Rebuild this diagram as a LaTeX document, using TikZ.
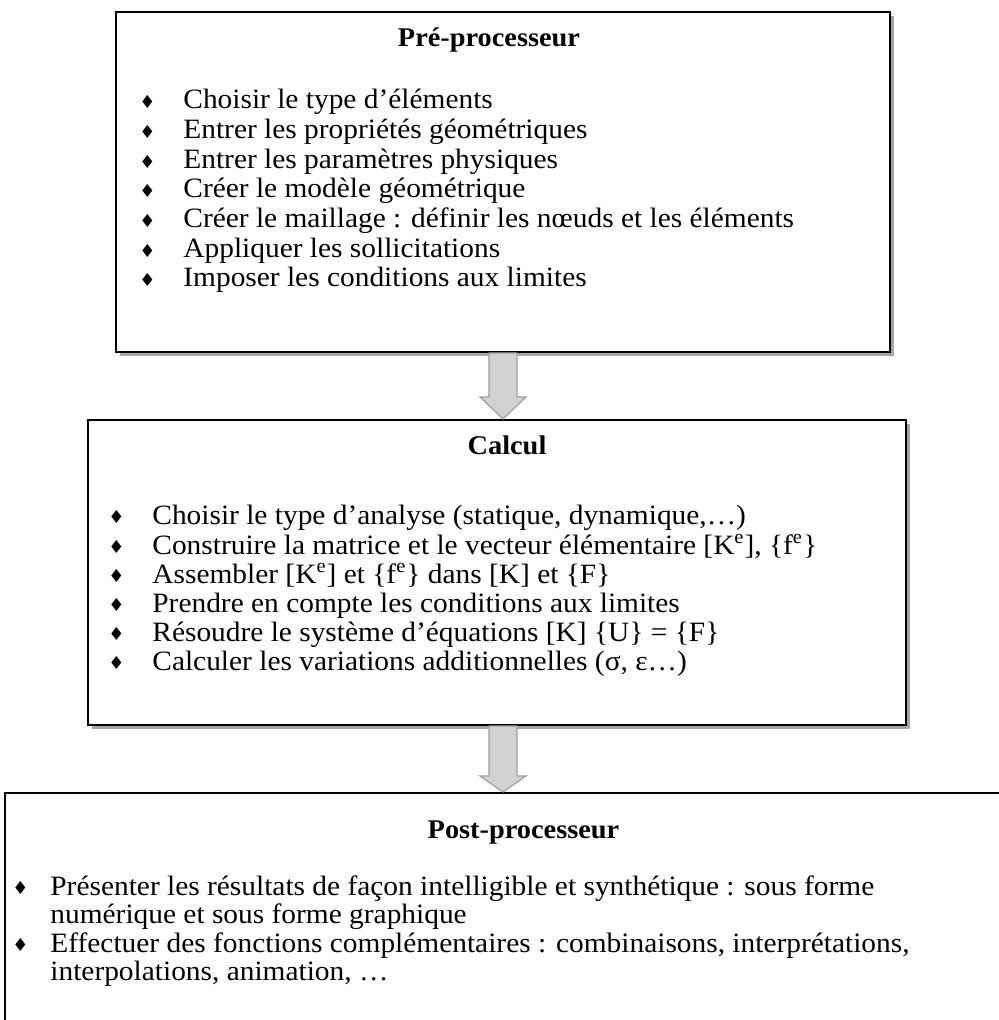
\documentclass[tikz,border=0pt]{standalone}
\usepackage{fontspec}
\setmainfont{Liberation Serif}[FakeStretch=1.05]
\newfontfamily\symfont{DejaVu Sans}
\usetikzlibrary{shapes,arrows,positioning,shadows,calc}

\newcommand{\puce}[1]{\llap{\raisebox{0.3pt}{\symfont\fontsize{9pt}{9pt}\selectfont ♦}\hspace{#1}}}

\begin{document}
\begin{tikzpicture}[x=0.5pt,y=-0.5pt]
\tikzstyle{box} = [rectangle, draw, line width=1pt, fill=white, drop shadow={shadow xshift=2pt, shadow yshift=-2pt, fill=gray!70, opacity=1}]
\tikzstyle{titre} = [font=\fontsize{13.5pt}{15pt}\selectfont\bfseries, inner sep=0pt]
\tikzstyle{itm} = [anchor=base west, inner sep=0pt, font=\fontsize{14pt}{14pt}\selectfont, align=left]
\tikzstyle{fleche} = [draw=gray!75, fill=gray!35, line width=0.6pt]

\useasboundingbox (0,0) rectangle (998,1020);
\fill[white] (0,0) rectangle (998,1020);

% boites
\node [box, minimum width=387pt, minimum height=170pt] (pre) at (503,182) {};
\node [box, minimum width=409pt, minimum height=152.5pt] (calcul) at (497,572.5) {};
\node [box, minimum width=502.5pt, minimum height=123.5pt] (post) at (507.5,916.5) {};

% titres
\node [titre, below=8pt of pre.north, xshift=-7pt] (pretitre) {Pré-processeur};
\node [titre, below=8pt of calcul.north, xshift=5pt] (calcultitre) {Calcul};
\node [titre, below=14pt of post.north, xshift=8pt] (posttitre) {Post-processeur};

% pre-processeur
\node [itm] (p1) at (183,109) {\puce{14pt}Choisir le type d’éléments};
\node [itm] (p2) at (183,139) {\puce{14pt}Entrer les propriétés géométriques};
\node [itm] (p3) at (183,169) {\puce{14pt}Entrer les paramètres physiques};
\node [itm] (p4) at (183,198) {\puce{14pt}Créer le modèle géométrique};
\node [itm] (p5) at (183,228) {\puce{14pt}Créer le maillage : définir les nœuds et les éléments};
\node [itm] (p6) at (183,258) {\puce{14pt}Appliquer les sollicitations};
\node [itm] (p7) at (183,287) {\puce{14pt}Imposer les conditions aux limites};

% calcul
\node [itm] (c1) at (152,524) {\puce{14pt}Choisir le type d’analyse (statique, dynamique,…)};
\node [itm] (c2) at (152,554) {\puce{14pt}Construire la matrice et le vecteur élémentaire [K\textsuperscript{e}], \{f\textsuperscript{e}\}};
\node [itm] (c3) at (152,583) {\puce{14pt}Assembler [K\textsuperscript{e}] et \{f\textsuperscript{e}\} dans [K] et \{F\}};
\node [itm] (c4) at (152,612) {\puce{14pt}Prendre en compte les conditions aux limites};
\node [itm] (c5) at (152,641) {\puce{14pt}Résoudre le système d’équations [K] \{U\} = \{F\}};
\node [itm] (c6) at (152,670) {\puce{14pt}Calculer les variations additionnelles (σ, ε…)};

% post-processeur
\node [itm] (q1) at (50,923) {\puce{11pt}Présenter les résultats de façon intelligible et synthétique : sous forme\\numérique et sous forme graphique};
\node [itm] (q2) at (50,980) {\puce{11pt}Effectuer des fonctions complémentaires : combinaisons, interprétations,\\interpolations, animation, …};

% fleches
\draw [fleche] ($(pre.south)+(-14,0)$) -- ($(calcul.north -| pre.south)+(-14,-22)$) -- ++(-9,0)
  -- (calcul.north -| pre.south) -- ++(23,-22) -- ++(-9,0) -- ($(pre.south)+(14,0)$) -- cycle;
\draw [fleche] ($(calcul.south -| pre.south)+(-14,0)$) -- ($(post.north -| pre.south)+(-14,-16)$) -- ++(-9,0)
  -- (post.north -| pre.south) -- ++(23,-16) -- ++(-9,0) -- ($(calcul.south -| pre.south)+(14,0)$) -- cycle;
\end{tikzpicture}
\end{document}
